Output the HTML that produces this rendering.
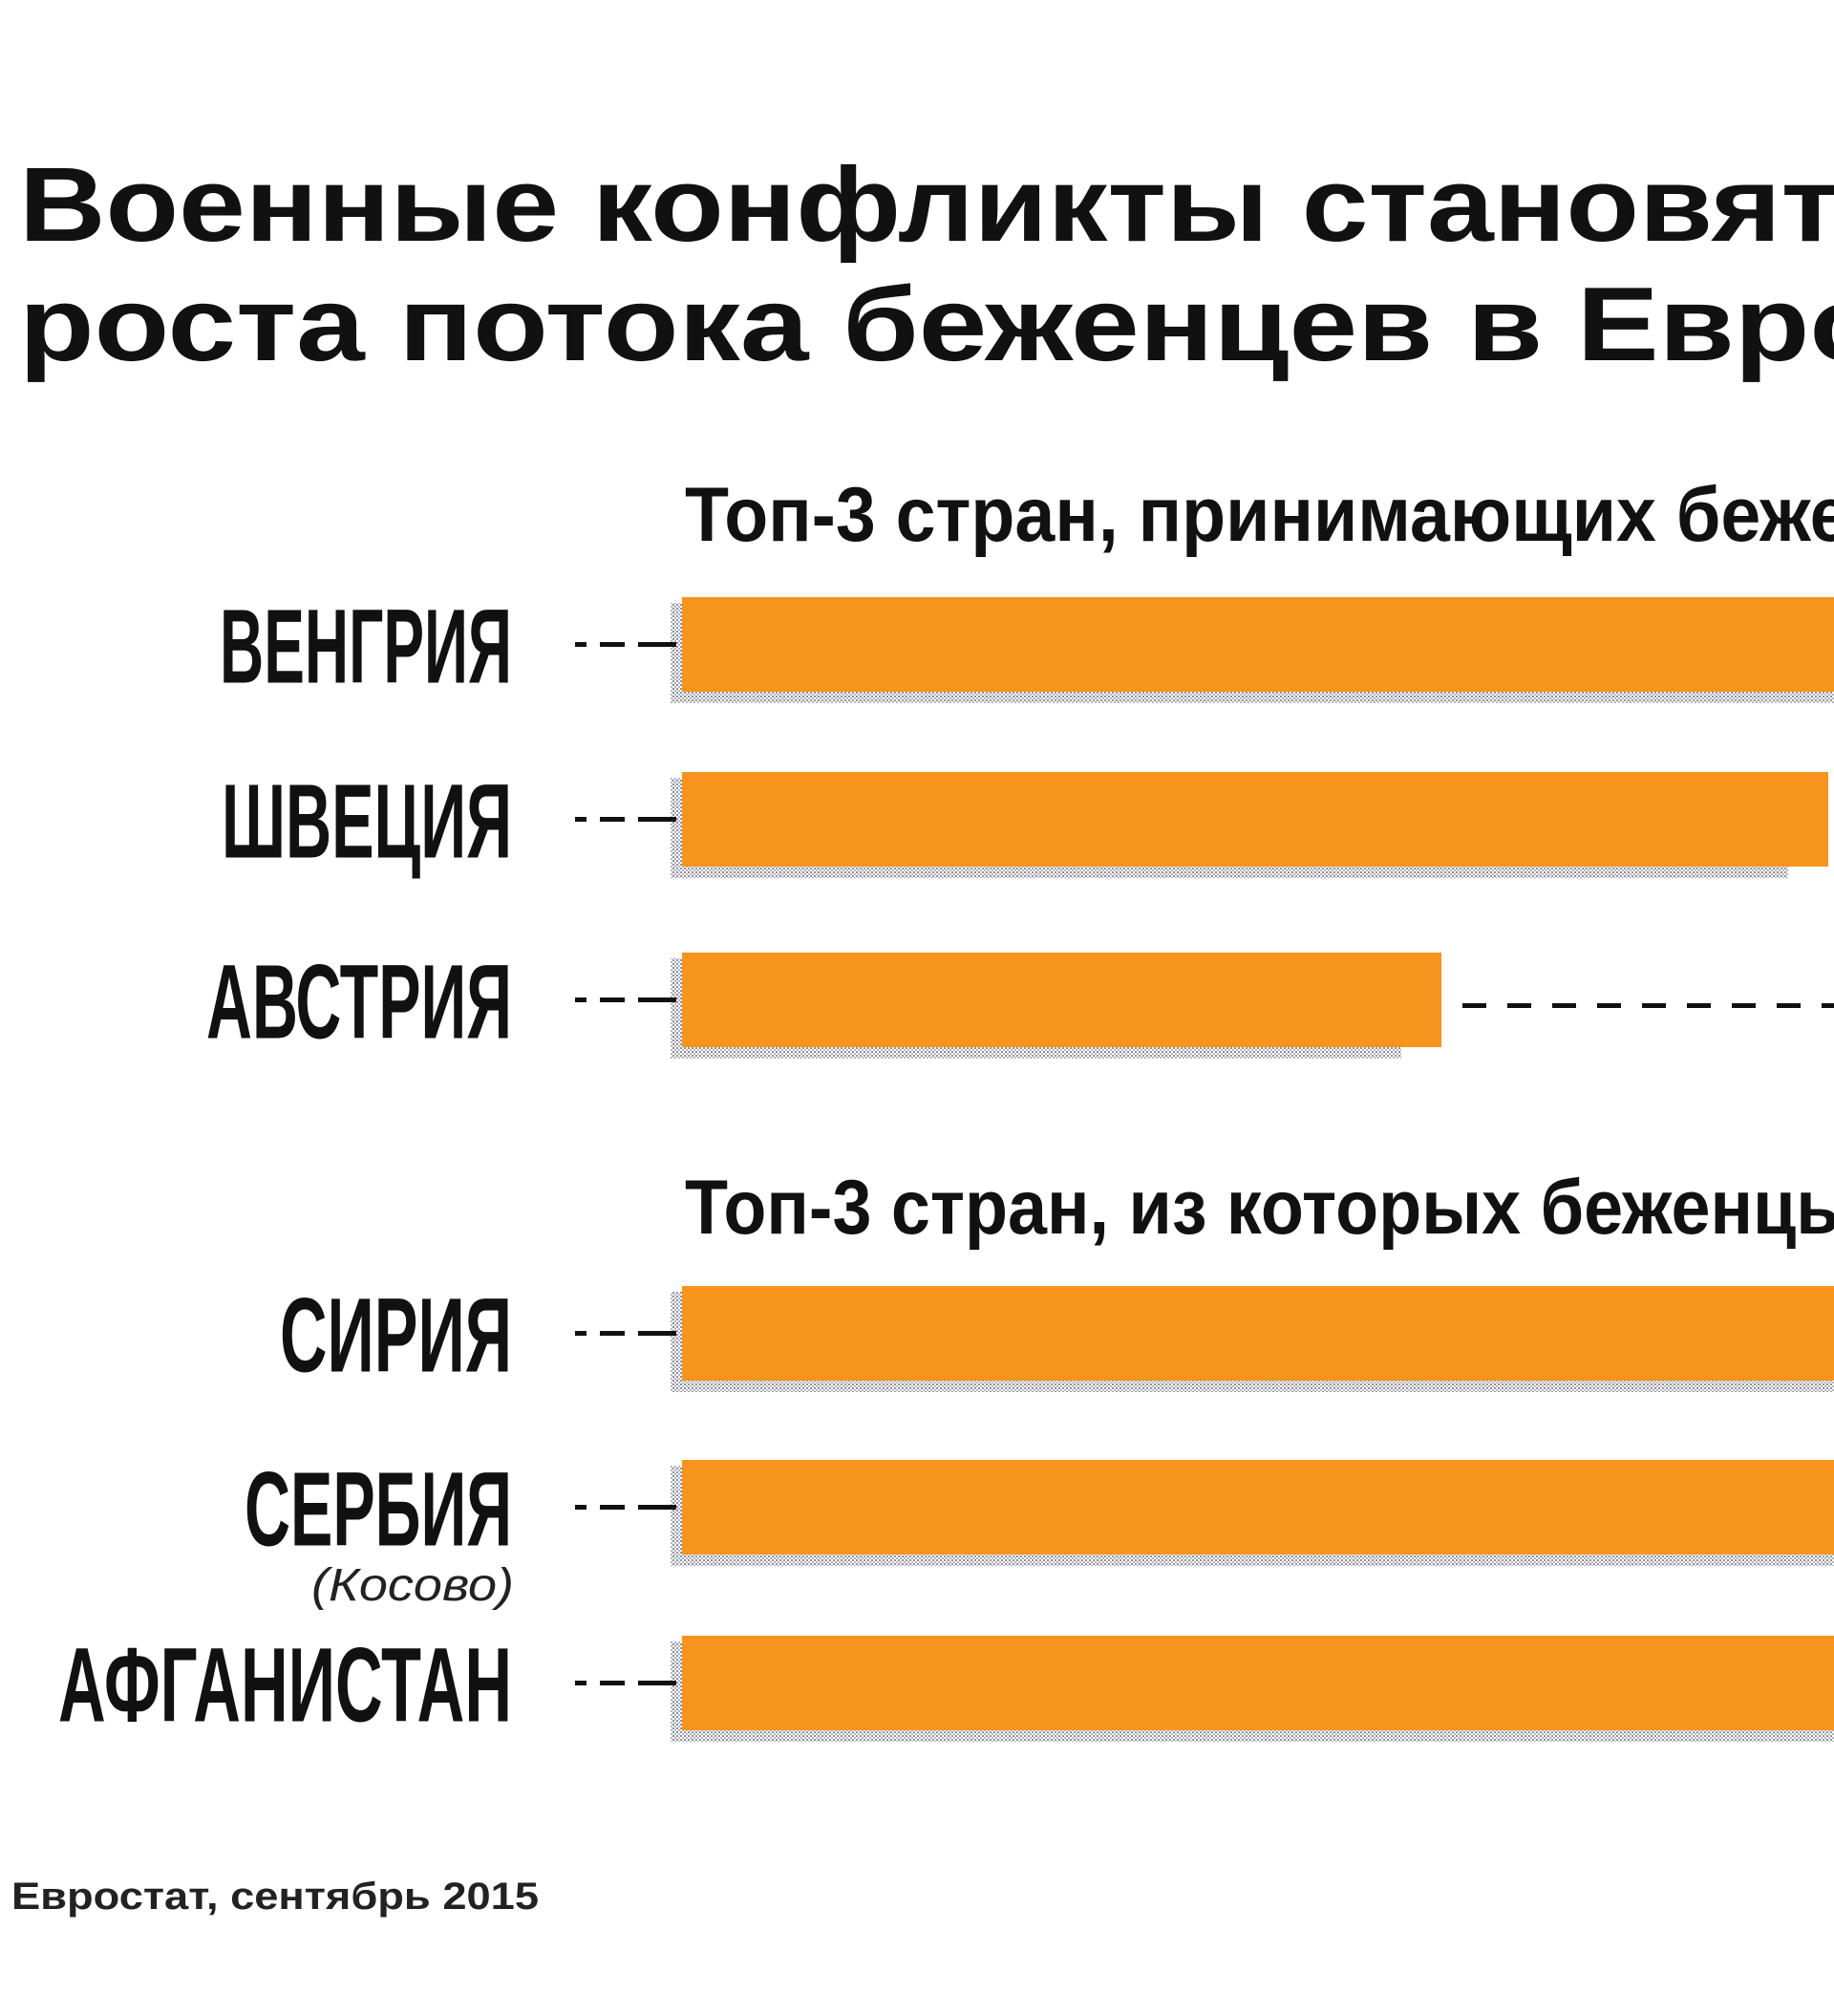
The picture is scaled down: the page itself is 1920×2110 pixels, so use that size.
<!DOCTYPE html>
<html lang="ru">
<head>
<meta charset="utf-8">
<style>
  html,body{margin:0;padding:0;background:#fff;}
  body{width:1920px;height:2110px;overflow:hidden;font-family:"Liberation Sans","Noto Sans CJK SC",sans-serif;}
  svg{display:block;}
</style>
</head>
<body>
<svg id="chart" width="1920" height="2110" viewBox="0 0 1920 2110" xmlns="http://www.w3.org/2000/svg">
  <defs>
    <pattern id="dots" width="4" height="4" patternUnits="userSpaceOnUse">
      <rect width="2" height="2" fill="#8f909c"/>
      <rect x="2" y="2" width="2" height="2" fill="#b5b6c0"/>
    </pattern>
  </defs>
  <rect width="1920" height="2110" fill="#ffffff"/>
  <g font-weight="bold" fill="#111" font-size="110">
    <text x="20" y="252" transform="translate(20 0) scale(1.14 1) translate(-20 0)">Военные конфликты становятся причиной</text>
    <text x="20" y="377" transform="translate(20 0) scale(1.17 1) translate(-20 0)">роста потока беженцев в Европу</text>
  </g>
  <text x="717" y="566" font-size="81" font-weight="bold" fill="#111" transform="translate(717 0) scale(0.93 1) translate(-717 0)">Топ-3 стран, принимающих беженцев</text>
  <text x="717" y="1291" font-size="81" font-weight="bold" fill="#111" transform="translate(717 0) scale(0.91 1) translate(-717 0)">Топ-3 стран, из которых беженцы едут в Европу</text>
  <g id="bars"></g>
  <text x="12" y="1998" font-size="40" font-weight="bold" fill="#222" textLength="552" lengthAdjust="spacingAndGlyphs">Евростат, сентябрь 2015</text>
</svg>
<script>
const categories = ["ВЕНГРИЯ","ШВЕЦИЯ","АВСТРИЯ","СИРИЯ","СЕРБИЯ","АФГАНИСТАН"];
const values = [1300, 1200, 795, 1300, 1300, 1300];
const labelWidths = [306, 304, 320, 243, 280, 475];
const rowTops = [625, 808, 997, 1346, 1528, 1712];

const NS = "http://www.w3.org/2000/svg";
const g = document.getElementById("bars");
const x0 = 714;
const xScale = v => x0 + v * 1.0;
const barH = 99;

function mk(tag, attrs){ const e = document.createElementNS(NS, tag); for (const k in attrs) e.setAttribute(k, attrs[k]); return e; }

categories.forEach((name, i) => {
  const top = rowTops[i];
  const cy = top + barH/2;
  const xEnd = xScale(values[i]);

  const sh = mk("rect", {x: x0-12, y: top+6, width: Math.max(0, xEnd - x0 - 30), height: barH+6, fill: "url(#dots)"});
  
  
  g.appendChild(sh);

  const bar = mk("rect", {x: x0, y: top, width: xEnd - x0, height: barH, fill: "#f7941d"});
  
  
  g.appendChild(bar);

  const ld = mk("line", {x1: 602, y1: cy, x2: 708, y2: cy, stroke: "#111", "stroke-width": 5, "stroke-dasharray": "12 14 26 14 30 0"});
  
  
  g.appendChild(ld);

  if (xEnd < 1880) {
    const td = mk("line", {x1: xEnd + 22, y1: cy + 6, x2: 1920, y2: cy + 6, stroke: "#111", "stroke-width": 5, "stroke-dasharray": "25 22"});
    
    
    g.appendChild(td);
  }

  const t = mk("text", {x: 536, y: cy + 40, "text-anchor": "end", "font-size": 110, "font-weight": "bold", fill: "#111", textLength: labelWidths[i], lengthAdjust: "spacingAndGlyphs"});
  t.textContent = name;
  
  
  g.appendChild(t);
});

const k = mk("text", {x: 538, y: 1675, "text-anchor": "end", "font-size": 48, "font-style": "italic", fill: "#222", textLength: 212, lengthAdjust: "spacingAndGlyphs"});
k.textContent = "(Косово)";


g.appendChild(k);
</script>
</body>
</html>
